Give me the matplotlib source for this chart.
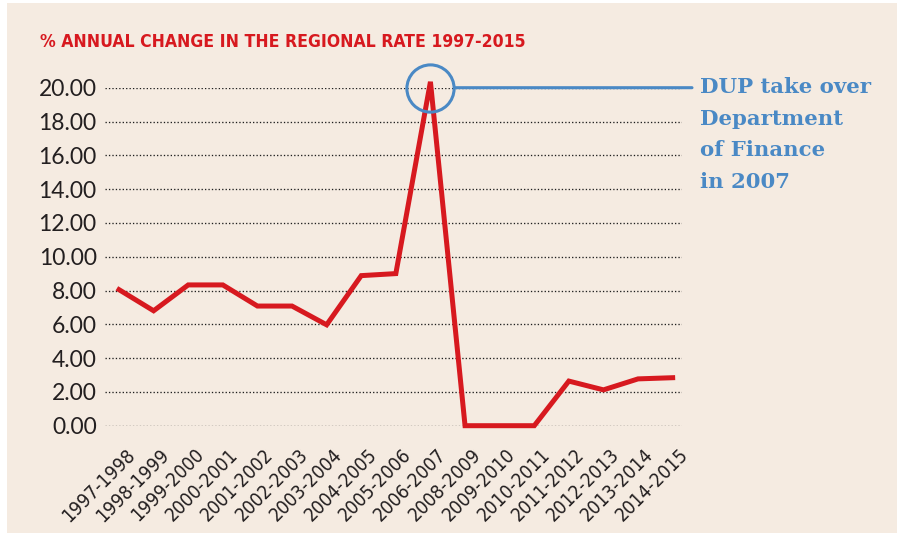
import matplotlib
matplotlib.use('Agg')
import matplotlib.pyplot as plt
from matplotlib import font_manager
from matplotlib.patches import Rectangle
from matplotlib.transforms import ScaledTranslation

# data
periods = ['1997-1998', '1998-1999', '1999-2000', '2000-2001', '2001-2002',
           '2002-2003', '2003-2004', '2004-2005', '2005-2006', '2006-2007',
           '2008-2009', '2009-2010', '2010-2011', '2011-2012', '2012-2013',
           '2013-2014', '2014-2015']
change = [8.05, 6.80, 8.33, 8.33, 7.08, 7.08, 5.97, 8.88, 9.00, 20.35,
          0.0, 0.0, 0.0, 2.64, 2.12, 2.77, 2.84]
y_ticks = [0, 2, 4, 6, 8, 10, 12, 14, 16, 18, 20]
peak_period = '2006-2007'
peak_level = 20
title = '% ANNUAL CHANGE IN THE REGIONAL RATE 1997-2015'
note = 'DUP take over\nDepartment\nof Finance\nin 2007'

red = '#d7191f'
blue = '#4a89c5'
dark = '#231f20'
bg = '#f5ebe1'

installed = {f.name for f in font_manager.fontManager.ttflist}


def pick(*names):
    for n in names:
        if n in installed:
            return n
    return 'DejaVu Sans'


narrow = pick('Liberation Sans Narrow', 'DejaVu Sans')
slab = pick('DejaVu Serif')
nums = pick('Lato', 'DejaVu Sans')

fig = plt.figure(figsize=(8.97, 5.33), dpi=100, facecolor='white')
fig.patches.append(Rectangle((7 / 897, 0), 1, 530 / 533, transform=fig.transFigure,
                             facecolor=bg, edgecolor='none', zorder=-10))
renderer = fig.canvas.get_renderer()


def fit_size(text, width_px, **kw):
    # font size that makes the string width_px wide
    t = fig.text(0, 0, text, fontsize=10, **kw)
    w = t.get_window_extent(renderer).width
    t.remove()
    return 10 * width_px / w


ax = fig.add_axes([105 / 897, 107.3 / 533, 577 / 897, 338 / 533])
ax.set_facecolor('none')

x = list(range(len(periods)))
ax.plot(x, change, color=red, lw=3.6, solid_joinstyle='miter', clip_on=False, zorder=3)

ax.set_xlim(-0.405, 16.27)
ax.set_ylim(0, 20)
ax.set_yticks(y_ticks)
ax.set_yticklabels([f'{v:.2f}' for v in y_ticks], fontfamily=nums, fontsize=16.5, color=dark)
ax.grid(axis='y', color='#1e1e1e', lw=0.95, ls=(0, (1, 1.6)))
ax.grid(axis='x', visible=False)
ax.set_axisbelow(True)
for s in ax.spines.values():
    s.set_visible(False)
ax.tick_params(axis='both', length=0)
ax.tick_params(axis='y', pad=6)
ax.tick_params(axis='x', pad=14)

lab_size = fit_size(periods[0], 94, fontfamily=narrow, fontstretch='condensed')
ax.set_xticks(x)
ax.set_xticklabels(periods, rotation=45, ha='right', va='top', rotation_mode='anchor',
                   fontfamily=narrow, fontstretch='condensed', fontsize=lab_size, color=dark)
shift = ScaledTranslation(6 / 100, 0, fig.dpi_scale_trans)
for lab in ax.get_xticklabels():
    lab.set_transform(lab.get_transform() + shift)

# highlight circle on the peak and connector to the note
pi = periods.index(peak_period)
ax.plot([pi], [peak_level], marker='o', ms=34, mfc='none', mec=blue, mew=2.2,
        clip_on=False, zorder=4)
ax.annotate('', xy=(pi, peak_level), xytext=(692, peak_level),
            textcoords=('figure pixels', 'data'),
            arrowprops=dict(arrowstyle='-', color=blue, lw=2.2, shrinkA=0, shrinkB=18),
            annotation_clip=False, zorder=4)

fig.text(700 / 897, 1 - 77 / 533, note, ha='left', va='top', color=blue,
         fontfamily=slab, fontweight='bold', fontsize=15.3, linespacing=1.72)

title_size = fit_size(title, 482, fontfamily=narrow, fontstretch='condensed', fontweight='bold')
fig.text(40 / 897, 1 - 47 / 533, title, ha='left', va='baseline', color=red,
         fontfamily=narrow, fontstretch='condensed', fontweight='bold', fontsize=title_size)

fig.savefig('out.png', dpi=100, facecolor=fig.get_facecolor())
